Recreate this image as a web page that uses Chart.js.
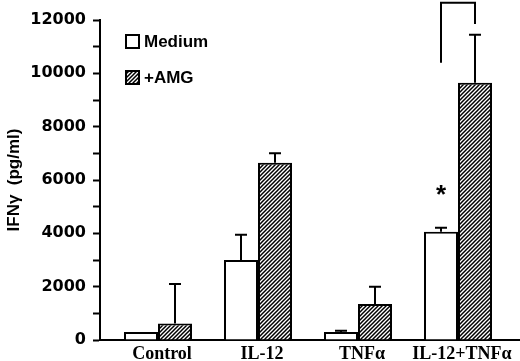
<!DOCTYPE html>
<html>
<head>
<meta charset="utf-8">
<script src="https://cdn.jsdelivr.net/npm/chart.js@4.4.1/dist/chart.umd.min.js"></script>
<style>
  html, body { margin: 0; padding: 0; background: #fff; }
  #chart { display: block; }
</style>
</head>
<body>
<canvas id="chart" width="520" height="361"></canvas>
<script>
// Data
const categories = ['Control', 'IL-12', 'TNFα', 'IL-12+TNFα'];
const mediumValues = [300, 3000, 300, 4060];
const mediumErrors = [0, 950, 50, 150];
const amgValues = [620, 6650, 1350, 9650];
const amgErrors = [1480, 350, 650, 1800];
const yTicks = [0, 2000, 4000, 6000, 8000, 10000, 12000];
// significance bracket on the last group: left end, top, right end
const bracketLevels = [10400, 12650, 11850];
const starLevel = 5650;

// diagonal hatch pattern
function makeHatch() {
  const s = 4;
  const c = document.createElement('canvas');
  c.width = s;
  c.height = s;
  const g = c.getContext('2d');
  g.fillStyle = '#fff';
  g.fillRect(0, 0, s, s);
  g.strokeStyle = '#000';
  g.lineWidth = 1.5;
  g.beginPath();
  g.moveTo(-1, s + 1); g.lineTo(s + 1, -1);
  g.moveTo(-1, 1); g.lineTo(1, -1);
  g.moveTo(s - 1, s + 1); g.lineTo(s + 1, s - 1);
  g.stroke();
  return g.createPattern(c, 'repeat');
}

const ctx = document.getElementById('chart').getContext('2d');
const hatch = makeHatch();

const errorBars = {
  id: 'errorBars',
  afterDatasetsDraw(chart) {
    const c = chart.ctx;
    const y = chart.scales.y;
    c.save();
    c.strokeStyle = '#000';
    c.lineWidth = 2;
    chart.data.datasets.forEach((ds, i) => {
      const meta = chart.getDatasetMeta(i);
      meta.data.forEach((bar, j) => {
        const err = ds.errors[j];
        if (!err) return;
        const v = ds.data[j].y;
        const y0 = y.getPixelForValue(v);
        const y1 = y.getPixelForValue(v + err);
        c.beginPath();
        c.moveTo(bar.x, y0);
        c.lineTo(bar.x, y1);
        c.moveTo(bar.x - 6, y1);
        c.lineTo(bar.x + 6, y1);
        c.stroke();
      });
    });

    // bracket and asterisk over the last group
    const last = categories.length - 1;
    const xa = chart.getDatasetMeta(0).data[last].x;
    const xb = chart.getDatasetMeta(1).data[last].x;
    c.beginPath();
    c.moveTo(xa, y.getPixelForValue(bracketLevels[0]));
    c.lineTo(xa, y.getPixelForValue(bracketLevels[1]));
    c.lineTo(xb, y.getPixelForValue(bracketLevels[1]));
    c.lineTo(xb, y.getPixelForValue(bracketLevels[2]));
    c.stroke();

    c.fillStyle = '#000';
    c.font = 'bold 26px "Liberation Sans"';
    c.textAlign = 'center';
    c.textBaseline = 'middle';
    c.fillText('*', xa, y.getPixelForValue(starLevel) + 6);
    c.restore();
  }
};

const boxLegend = {
  id: 'boxLegend',
  afterDraw(chart) {
    const c = chart.ctx;
    const area = chart.chartArea;
    c.save();
    c.font = 'bold 17px "Liberation Sans"';
    c.textBaseline = 'middle';
    c.textAlign = 'left';
    chart.data.datasets.forEach((ds, i) => {
      const bx = area.left + 26;
      const by = area.top + 15 + i * 36;
      c.fillStyle = ds.backgroundColor;
      c.fillRect(bx, by, 13, 13);
      c.strokeStyle = '#000';
      c.lineWidth = 2;
      c.strokeRect(bx, by, 13, 13);
      c.fillStyle = '#000';
      c.fillText(ds.label, bx + 18, by + 7);
    });
    c.restore();
  }
};

new Chart(ctx, {
  type: 'bar',
  data: {
    datasets: [{
      label: 'Medium',
      data: mediumValues.map((v, i) => ({ x: i, y: v })),
      errors: mediumErrors,
      backgroundColor: '#fff',
      borderColor: '#000',
      borderWidth: 2
    }, {
      label: '+AMG',
      data: amgValues.map((v, i) => ({ x: i, y: v })),
      errors: amgErrors,
      backgroundColor: hatch,
      borderColor: '#000',
      borderWidth: 2
    }]
  },
  options: {
    responsive: false,
    animation: false,
    parsing: false,
    layout: { padding: { top: 20, right: 0, bottom: 0, left: 0 } },
    datasets: { bar: { categoryPercentage: 0.68, barPercentage: 1 } },
    plugins: {
      legend: { display: false },
      tooltip: { enabled: false }
    },
    scales: {
      x: {
        type: 'linear',
        offset: false,
        min: -0.58,
        max: 3.62,
        afterBuildTicks: (scale) => { scale.ticks = categories.map((_, i) => ({ value: i + 0.04 })); },
        afterFit: (scale) => { scale.height = 21; },
        grid: { display: false, drawTicks: false },
        border: { display: true, color: '#000', width: 2 },
        ticks: {
          autoSkip: false,
          maxRotation: 0,
          padding: 5,
          color: '#000',
          font: { family: '"Liberation Serif"', size: 18, weight: 'bold', lineHeight: 1 },
          callback: (v) => categories[Math.round(v)]
        }
      },
      y: {
        min: 0,
        max: 12000,
        afterBuildTicks: (scale) => {
          const t = [];
          yTicks.forEach((v, i) => {
            t.push({ value: v });
            if (i < yTicks.length - 1) t.push({ value: (v + yTicks[i + 1]) / 2 });
          });
          scale.ticks = t;
        },
        afterFit: (scale) => { scale.width = 100; },
        grid: {
          drawOnChartArea: false,
          drawTicks: true,
          tickLength: 7,
          tickWidth: 2,
          tickColor: '#000'
        },
        border: { display: true, color: '#000', width: 2 },
        title: {
          display: true,
          text: 'IFNγ  (pg/ml)',
          color: '#000',
          padding: { top: 4, bottom: 0 },
          font: { family: '"Liberation Sans"', size: 17, weight: 'bold' }
        },
        ticks: {
          padding: 7,
          color: '#000',
          font: { family: '"DejaVu Sans"', size: 16, weight: 'bold' },
          callback: (v) => (yTicks.includes(v) ? String(v) : '')
        }
      }
    }
  },
  plugins: [errorBars, boxLegend]
});
</script>
</body>
</html>
